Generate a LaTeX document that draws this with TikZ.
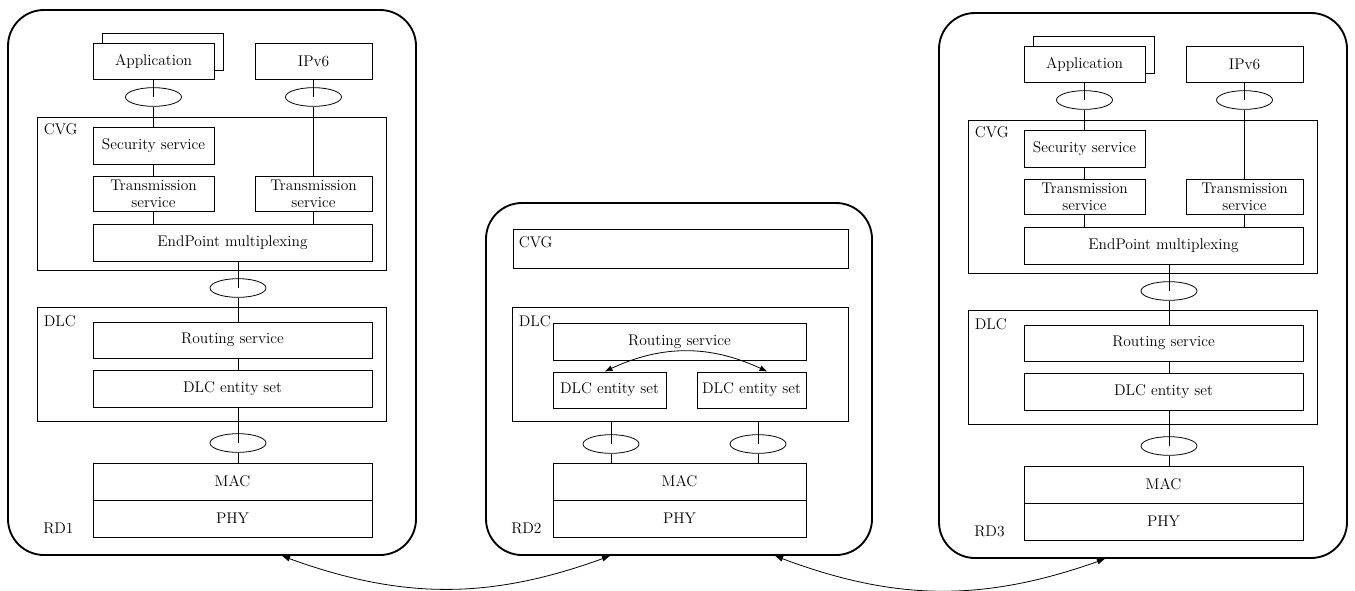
\documentclass[tikz,border=0pt]{standalone}
\usetikzlibrary{shapes.geometric,arrows.meta,calc}
\tikzset{
  box/.style={draw, line width=0.6pt, inner sep=0pt, font=\fontsize{11.6}{12.8}\selectfont, align=center},
  rd/.style={draw, line width=1.4pt, rounded corners=27pt},
  sap/.style={draw, ellipse, line width=0.6pt, minimum width=42pt, minimum height=14pt, inner sep=0pt},
  ln/.style={line width=0.6pt},
  lbl/.style={inner sep=0pt, anchor=base west, font=\fontsize{11.6}{12.8}\selectfont},
  tip/.tip={Latex[length=6pt,width=4.5pt]},
  arr/.style={line width=0.6pt, tip-tip}
}
\newcommand\bx[7][]{\node[box,#1, minimum width={0.75pt*(#5-#3)}, minimum height={0.75pt*(#6-#4)}] (#2) at ({(#3+#5)/2},{(#4+#6)/2}) {#7};}
\newcommand\rdstack[2]{%
  \bx[rd]{#1rd}{8}{10}{416}{555}{}
  \bx{#1apb}{102}{33}{223}{70}{}
  \bx[fill=white]{#1app}{93}{43}{214}{79}{Application}
  \bx{#1ip}{255}{43}{372}{79}{IPv6}
  \node[sap] (#1e1) at (153.5,97) {};
  \node[sap] (#1e2) at (313.5,97) {};
  \bx{#1cvg}{37}{117}{386}{270}{}
  \node[lbl] (#1cvgl) at ($(#1cvg.north west)+(7,18)$) {CVG};
  \bx{#1sec}{93}{127}{214}{164}{Security service}
  \bx{#1tl}{93}{176}{214}{211}{Transmission\\service}
  \bx{#1tr}{255}{176}{372}{211}{Transmission\\service}
  \bx{#1ep}{93}{224}{372}{261}{EndPoint multiplexing}
  \node[sap] (#1e3) at (238,288) {};
  \bx{#1dlc}{37}{307}{386}{421}{}
  \node[lbl] (#1dlcl) at ($(#1dlc.north west)+(7,20)$) {DLC};
  \bx{#1rs}{93}{322}{372}{358}{Routing service}
  \bx{#1ds}{93}{370}{372}{407}{DLC entity set}
  \node[sap] (#1e4) at (238,443) {};
  \bx{#1mac}{93}{463}{372}{500}{MAC}
  \bx{#1phy}{93}{500}{372}{537}{PHY}
  \node[lbl] (#1rdl) at (43,533) {#2};
  \draw[ln] (#1app.south) -- (#1e1.center);
  \draw[ln] (#1e1.south) -- (#1sec.north);
  \draw[ln] (#1ip.south) -- (#1e2.center);
  \draw[ln] (#1e2.south) -- (#1tr.north);
  \draw[ln] (#1sec.south) -- (#1tl.north);
  \draw[ln] (#1tl.south) -- (#1tl.south |- #1ep.north);
  \draw[ln] (#1tr.south) -- (#1tr.south |- #1ep.north);
  \draw[ln] (#1e3 |- #1ep.south) -- (#1e3.center);
  \draw[ln] (#1e3.south) -- (#1e3 |- #1rs.north);
  \draw[ln] (#1e3 |- #1rs.south) -- (#1e3 |- #1ds.north);
  \draw[ln] (#1e3 |- #1ds.south) -- (#1e4.center);
  \draw[ln] (#1e4.south) -- (#1e4 |- #1mac.north);
}
\begin{document}
\begin{tikzpicture}[x=0.75pt,y=-0.75pt]
\useasboundingbox (0,0) rectangle (1355,590);
% RD1
\rdstack{a}{RD1}
% RD3
\begin{scope}[shift={(931,3)}]
\rdstack{c}{RD3}
\end{scope}
% RD2
\bx[rd]{rd2}{486}{203}{872}{555}{}
\bx{cvg2}{513}{229}{848}{268}{}
\node[lbl] (cvg2l) at ($(cvg2.north west)+(6,19)$) {CVG};
\bx{dlc2}{512}{307}{848}{421}{}
\node[lbl] (dlc2l) at ($(dlc2.north west)+(7,20)$) {DLC};
\bx{rs2}{553}{323}{806}{360}{Routing service}
\bx{dsl}{553}{372}{666}{408}{DLC entity set}
\bx{dsr}{697}{372}{806}{408}{DLC entity set}
\node[sap] (e5) at (611,444) {};
\node[sap] (e6) at (758,444) {};
\bx{mac2}{553}{463}{806}{500}{MAC}
\bx{phy2}{553}{500}{806}{537}{PHY}
\node[lbl] (rd2l) at (511,533) {RD2};
\draw[arr] ($(dsl.north)+(-5,0)$) to[bend left=25] ($(dsr.north)+(16,0)$);
\draw[ln] (e5 |- dlc2.south) -- (e5.center);
\draw[ln] (e5.south) -- (e5 |- mac2.north);
\draw[ln] (e6 |- dlc2.south) -- (e6.center);
\draw[ln] (e6.south) -- (e6 |- mac2.north);
% links
\draw[arr] ($(ard.south)+(70,0)$) to[bend right=20] ($(rd2.south)+(-69,0)$);
\draw[arr] ($(rd2.south)+(96,0)$) to[bend right=20] ($(crd.south)+(-38,0)$);
\end{tikzpicture}
\end{document}
